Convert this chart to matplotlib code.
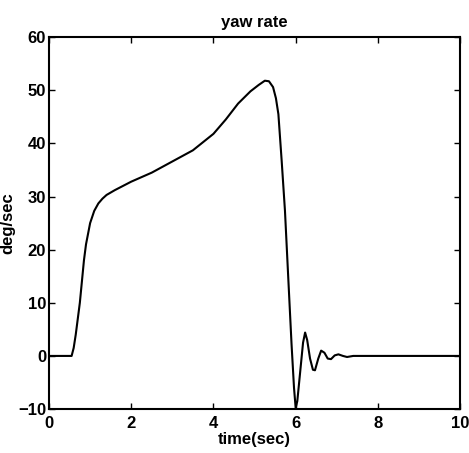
import matplotlib

matplotlib.use("Agg")
import matplotlib.pyplot as plt

# yaw rate response
time_s = [0.0, 0.55, 0.60, 0.65, 0.70, 0.75, 0.80, 0.85, 0.90, 1.0, 1.1, 1.2,
          1.3, 1.4, 1.6, 1.8, 2.0, 2.5, 3.0, 3.5, 4.0, 4.3, 4.6, 4.9, 5.1,
          5.25, 5.35, 5.45, 5.52, 5.58, 5.66, 5.74, 5.82, 5.90, 5.96, 6.0,
          6.04, 6.11, 6.18, 6.23, 6.28, 6.35, 6.42, 6.47, 6.55, 6.62, 6.70,
          6.78, 6.86, 6.95, 7.04, 7.15, 7.25, 7.4, 10.0]
yaw_rate = [0.0, 0.0, 1.5, 4.0, 7.0, 10.0, 14.0, 18.0, 21.0, 25.0, 27.3, 28.7,
            29.6, 30.3, 31.2, 32.0, 32.8, 34.5, 36.6, 38.7, 41.8, 44.5, 47.5,
            49.8, 51.0, 51.8, 51.7, 50.6, 48.5, 45.5, 36.7, 27.3, 14.7, 2.2,
            -6.0, -9.8, -8.5, -3.0, 2.5, 4.4, 3.0, -0.5, -2.6, -2.7, -0.5,
            1.0, 0.6, -0.5, -0.6, 0.1, 0.3, 0.0, -0.2, 0.0, 0.0]

x_ticks = [0, 2, 4, 6, 8, 10]
y_ticks = [-10, 0, 10, 20, 30, 40, 50, 60]

plt.rcParams["font.family"] = ["Liberation Sans", "DejaVu Sans"]
plt.rcParams["font.weight"] = "bold"

fig = plt.figure(figsize=(4.69, 4.53), dpi=100)
ax = fig.add_axes([0.1045, 0.097, 0.8765, 0.821])

ax.plot(time_s, yaw_rate, color="black", linewidth=1.5)

ax.set_xlim(0, 10)
ax.set_ylim(-10, 60)
ax.set_xticks(x_ticks)
ax.set_yticks(y_ticks)
ax.tick_params(direction="in", length=4, width=1, top=True, right=True,
               labelsize=12)
ax.tick_params(axis="x", pad=5)
ax.tick_params(axis="y", pad=2)
for lbl in ax.get_xticklabels() + ax.get_yticklabels():
    lbl.set_fontweight("bold")
for s in ax.spines.values():
    s.set_linewidth(1.5)

ax.set_title("yaw rate", fontsize=12, fontweight="bold", pad=7)
ax.set_xlabel("time(sec)", fontsize=12, fontweight="bold", labelpad=1)
ax.set_ylabel("deg/sec", fontsize=12, fontweight="bold", labelpad=2)

fig.savefig("out.png", dpi=100)
